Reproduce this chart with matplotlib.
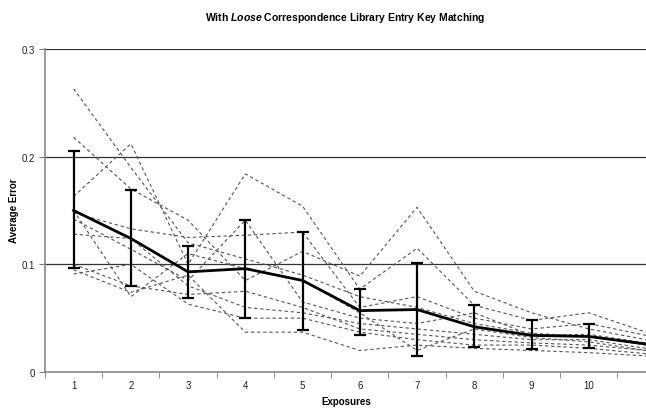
import matplotlib
matplotlib.use("Agg")
import matplotlib.pyplot as plt
import numpy as np

plt.rcParams['font.family'] = ['Liberation Sans', 'DejaVu Sans']
plt.rcParams['mathtext.fontset'] = 'custom'
plt.rcParams['mathtext.it'] = 'Liberation Sans:italic:bold'
plt.rcParams['mathtext.rm'] = 'Liberation Sans:bold'

exposures = [1, 2, 3, 4, 5, 6, 7, 8, 9, 10, 11]
tick_labels = ["1", "2", "3", "4", "5", "6", "7", "8", "9", "10", ""]

mean_error = [0.150, 0.124, 0.093, 0.096, 0.085, 0.057, 0.058, 0.042, 0.034, 0.033, 0.026]
err_upper = [0.205, 0.169, 0.117, 0.141, 0.130, 0.077, 0.101, 0.062, 0.048, 0.045, 0.026]
err_lower = [0.097, 0.080, 0.069, 0.050, 0.039, 0.034, 0.015, 0.023, 0.021, 0.022, 0.026]

s1 = [0.263, 0.190, 0.120, 0.105, 0.090, 0.070, 0.060, 0.045, 0.036, 0.033, 0.025]
s2 = [0.218, 0.170, 0.141, 0.085, 0.112, 0.089, 0.153, 0.075, 0.055, 0.040, 0.030]
s3 = [0.163, 0.212, 0.100, 0.184, 0.154, 0.077, 0.115, 0.062, 0.048, 0.055, 0.037]
s4 = [0.148, 0.133, 0.125, 0.127, 0.130, 0.060, 0.070, 0.050, 0.040, 0.045, 0.034]
s5 = [0.142, 0.114, 0.085, 0.141, 0.065, 0.050, 0.045, 0.055, 0.034, 0.035, 0.027]
s6 = [0.128, 0.124, 0.080, 0.060, 0.055, 0.045, 0.040, 0.035, 0.030, 0.030, 0.022]
s7 = [0.100, 0.080, 0.072, 0.075, 0.060, 0.040, 0.035, 0.030, 0.027, 0.025, 0.020]
s8 = [0.091, 0.100, 0.063, 0.050, 0.050, 0.037, 0.030, 0.025, 0.025, 0.022, 0.017]
s9 = [0.095, 0.074, 0.090, 0.037, 0.037, 0.020, 0.025, 0.022, 0.020, 0.018, 0.015]
s10 = [0.150, 0.070, 0.110, 0.096, 0.085, 0.055, 0.020, 0.040, 0.032, 0.028, 0.020]
series = [s1, s2, s3, s4, s5, s6, s7, s8, s9, s10]

fig = plt.figure(figsize=(6.46, 4.14), dpi=100)
ax = fig.add_axes([45/646, 41/414, 1 - 45/646, 323/414])

for s in series:
    ax.plot(exposures, s, color='#555555', lw=0.8, linestyle=(0, (3, 2.5)), zorder=2)

x = np.array(exposures[:10])
m = np.array(mean_error[:10])
up = np.array(err_upper[:10]) - m
lo = m - np.array(err_lower[:10])
ax.plot(exposures, mean_error, color='black', lw=2, zorder=4)
ax.errorbar(x, m, yerr=[lo, up], fmt='none', ecolor='black', elinewidth=1.6,
            capsize=4, capthick=1.6, zorder=5)

ax.set_xlim(0.5, 0.5 + 601/58.4)
ax.set_ylim(0, 0.3)
ax.set_yticks([0, 0.1, 0.2, 0.3])
ax.set_yticklabels(["0", "0.1", "0.2", "0.3"])
ax.set_xticks(exposures)
ax.set_xticklabels(tick_labels)
ax.set_xticks(np.arange(0.5, 11.5, 1.0), minor=True)
ax.tick_params(axis='x', which='major', length=0, pad=6, labelsize=7, labelcolor='#222222')
ax.tick_params(axis='x', which='minor', length=4, direction='out', color='#777777')
ax.tick_params(axis='y', length=4, direction='out', color='#777777', labelsize=7, labelcolor='#222222')

for y in [0.1, 0.2, 0.3]:
    ax.axhline(y, color='#333333', lw=0.9, zorder=1)

for sp in ['top', 'right']:
    ax.spines[sp].set_visible(False)
ax.spines['left'].set_color('#888888')
ax.spines['bottom'].set_color('#888888')
ax.spines['left'].set_linewidth(1.2)
ax.spines['bottom'].set_linewidth(1.2)

fig.text(345/646, 1 - 18/414, r"With $\mathit{Loose}$ Correspondence Library Entry Key Matching",
         ha='center', va='center', fontsize=7.5, fontweight='bold')
fig.text(14/646, 1 - 211/414, "Average Error", rotation=90, ha='center', va='center',
         fontsize=7, fontweight='bold')
fig.text(346/646, 1 - 402/414, "Exposures", ha='center', va='center',
         fontsize=7, fontweight='bold')

fig.savefig("out.png", dpi=100)
